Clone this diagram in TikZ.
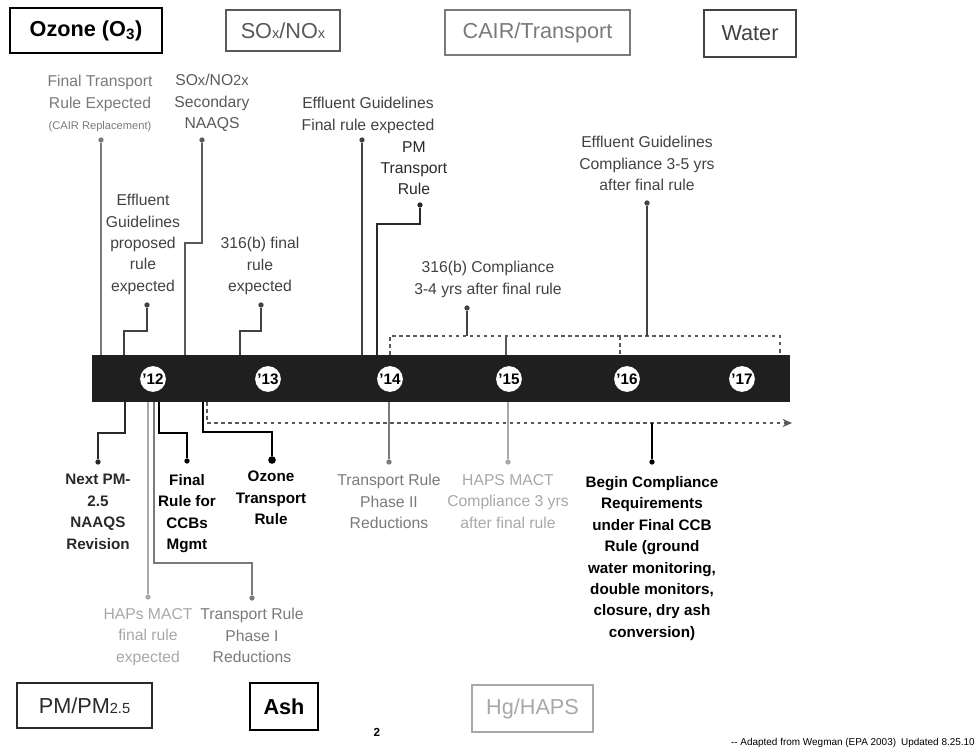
\documentclass[tikz,border=0pt]{standalone}
\usepackage{fontspec}
\setmainfont{Liberation Sans}
\usetikzlibrary{arrows.meta}
\definecolor{soxcol}{gray}{0.35}
\definecolor{caircol}{gray}{0.48}
\definecolor{watercol}{gray}{0.26}
\definecolor{pmcol}{gray}{0.16}
\definecolor{hgcol}{gray}{0.66}
\definecolor{barcol}{gray}{0.12}
\newcommand{\smallpart}[1]{{\fontsize{12.5}{12.5}\selectfont #1}}

\begin{document}
\begin{tikzpicture}[x=0.03cm, y=-0.03cm, >={Stealth[length=8pt, width=7pt]},
  lbl/.style={align=center, anchor=north, inner sep=0pt, font=\fontsize{13.4}{18.3}\selectfont},
  catbox/.style={draw, line width=1.2pt, inner sep=0pt, font=\fontsize{18.5}{20}\selectfont},
  evdot/.style={circle, fill, inner sep=0pt, minimum size=4.5pt},
  yearmark/.style={circle, fill=white, inner sep=0pt, minimum size=22pt, font=\bfseries\fontsize{13}{13}\selectfont},
  link/.style={line width=1.3pt}]
\useasboundingbox (0,0) rectangle (977,752);

\node[catbox, line width=2.4pt, minimum width=129.7pt, minimum height=38.4pt, font=\bfseries\fontsize{18.5}{20}\selectfont] (kOzone) at (86,30.5) {Ozone (O\textsubscript{3})};
\node[catbox, draw=soxcol, text=soxcol, minimum width=97.3pt, minimum height=35pt] (kSox) at (283,30.5) {SO\smallpart{x}/NO\smallpart{x}};
\node[catbox, draw=caircol, text=caircol, minimum width=157.9pt, minimum height=38.4pt] (kCair) at (537.5,32.5) {CAIR/Transport};
\node[catbox, draw=watercol, text=watercol, minimum width=78.5pt, minimum height=40.1pt] (kWater) at (750,33.5) {Water};
\node[catbox, draw=pmcol, text=pmcol, minimum width=115.2pt, minimum height=38.4pt] (kPm) at (84.5,705.5) {PM/PM\smallpart{2.5}};
\node[catbox, line width=1.8pt, minimum width=58pt, minimum height=40.1pt, font=\bfseries\fontsize{18.5}{20}\selectfont] (kAsh) at (284,706.5) {Ash};
\node[catbox, draw=hgcol, text=hgcol, minimum width=103.3pt, minimum height=40.1pt] (kHg) at (532.5,708.5) {Hg/HAPS};

\node[fill=barcol, inner sep=0pt, minimum width=595.8pt, minimum height=40.1pt] (bar) at (441,378.5) {};
\foreach \yr/\xx in {12/153, 13/268, 14/390, 15/509, 16/627, 17/742}
  \node[yearmark] (y\yr) at (\xx,379) {'\yr};

\node[lbl, text=caircol] (tFTR) at (100,75) {Final Transport\\Rule Expected\\{\fontsize{9.5}{12}\selectfont (CAIR Replacement)}};
\node[evdot, fill=caircol] (dFTR) at (101,140) {};
\draw[link, caircol] (dFTR) -- (dFTR |- bar.north);

\node[lbl, text=soxcol] (tSox) at (212,74) {SO\smallpart{x}/NO\smallpart{2x}\\Secondary\\NAAQS};
\node[evdot, fill=soxcol] (dSox) at (202,140) {};
\draw[link, soxcol] (dSox) -- (202,243) -| (185,0 |- bar.north);

\node[lbl, text=watercol] (tEGp) at (143,194) {Effluent\\Guidelines\\proposed\\rule\\expected};
\node[evdot, fill=watercol] (dEGp) at (147,305) {};
\draw[link, watercol] (dEGp) -- (147,331) -| (124,0 |- bar.north);

\node[lbl, text=watercol] (t316f) at (260,237) {316(b) final\\rule\\expected};
\node[evdot, fill=watercol] (d316f) at (261,305) {};
\draw[link, watercol] (d316f) -- (261,331) -| (240,0 |- bar.north);

\node[lbl, text=watercol] (tEGf) at (368,97) {Effluent Guidelines\\Final rule expected};
\node[evdot, fill=watercol] (dEGf) at (362,140) {};
\draw[link, watercol] (dEGf) -- (dEGf |- bar.north);

\node[lbl, text=pmcol] (tPmt) at (414,141) {PM\\Transport\\Rule};
\node[evdot, fill=pmcol] (dPmt) at (420,205) {};
\draw[link, pmcol] (dPmt) -- (420,224) -| (377,0 |- bar.north);

\draw[soxcol, line width=0.9pt, dashed] (390,0 |- bar.north) -- (390,336) coordinate (bl) -- (780,336) coordinate (br) -- (780,0 |- bar.north);
\draw[soxcol, line width=0.9pt] (506,336) -- (506,0 |- bar.north);
\draw[soxcol, line width=0.9pt, dashed] (620,336) -- (620,0 |- bar.north);

\node[lbl, text=watercol] (tEGc) at (647,136) {Effluent Guidelines\\Compliance 3-5 yrs\\after final rule};
\node[evdot, fill=watercol] (dEGc) at (647,203) {};
\draw[link, watercol] (dEGc) -- (dEGc |- br);

\node[lbl, text=watercol] (t316c) at (488,261) {316(b) Compliance\\3-4 yrs after final rule};
\node[evdot, fill=watercol] (d316c) at (467,308) {};
\draw[link, watercol] (d316c) -- (d316c |- bl);

\draw[soxcol, line width=1pt, dashed, ->] (207,0 |- bar.south) -- (207,423) coordinate (al) -- (792,423) coordinate (ar);

\node[lbl, text=pmcol, font=\bfseries\fontsize{13}{18.3}\selectfont] (tNpm) at (98,474) {Next PM-\\2.5\\NAAQS\\Revision};
\node[evdot, fill=pmcol] (dNpm) at (98,462) {};
\draw[link, pmcol] (125,0 |- bar.south) -- (125,433) -| (dNpm);

\node[lbl, font=\bfseries\fontsize{13}{18.3}\selectfont] (tCcb) at (187,474) {Final\\Rule for\\CCBs\\Mgmt};
\node[evdot] (dCcb) at (187,461) {};
\draw[link] (159,0 |- bar.south) -- (159,433) -| (dCcb);

\node[lbl, font=\bfseries\fontsize{13}{18.3}\selectfont] (tOtr) at (271,471) {Ozone\\Transport\\Rule};
\node[evdot, minimum size=6.5pt] (dOtr) at (272,460) {};
\draw[link, line width=1.8pt] (203,0 |- bar.south) -- (203,432) -| (dOtr);

\node[lbl, text=hgcol] (tHap1) at (148,608) {HAPs MACT\\final rule\\expected};
\node[evdot, fill=hgcol] (dHap1) at (148,597) {};
\draw[link, hgcol] (dHap1 |- bar.south) -- (dHap1);

\node[lbl, text=caircol] (tTr1) at (252,608) {Transport Rule\\Phase I\\Reductions};
\node[evdot, fill=caircol] (dTr1) at (252,598) {};
\draw[link, caircol] (154,0 |- bar.south) -- (154,563) -| (dTr1);

\node[lbl, text=caircol] (tTr2) at (389,474) {Transport Rule\\Phase II\\Reductions};
\node[evdot, fill=caircol] (dTr2) at (389,462) {};
\draw[link, caircol] (dTr2 |- bar.south) -- (dTr2);

\node[lbl, text=hgcol] (tHap2) at (508,474) {HAPS MACT\\Compliance 3 yrs\\after final rule};
\node[evdot, fill=hgcol] (dHap2) at (508,462) {};
\draw[link, hgcol] (dHap2 |- bar.south) -- (dHap2);

\node[lbl, font=\bfseries\fontsize{13}{18.3}\selectfont] (tCcbc) at (652,476) {Begin Compliance\\Requirements\\under Final CCB\\Rule (ground\\water monitoring,\\double monitors,\\closure, dry ash\\conversion)};
\node[evdot] (dCcbc) at (652,462) {};
\draw[link, line width=1.8pt] (dCcbc |- al) -- (dCcbc);

\node[font=\bfseries\fontsize{10}{12}\selectfont] (pgno) at (377,732) {2};
\node[anchor=east, inner sep=0pt, font=\fontsize{8.5}{10}\selectfont] (credit) at (975,743) {{-}{-} Adapted from Wegman (EPA 2003)\enspace Updated 8.25.10};
\end{tikzpicture}
\end{document}
